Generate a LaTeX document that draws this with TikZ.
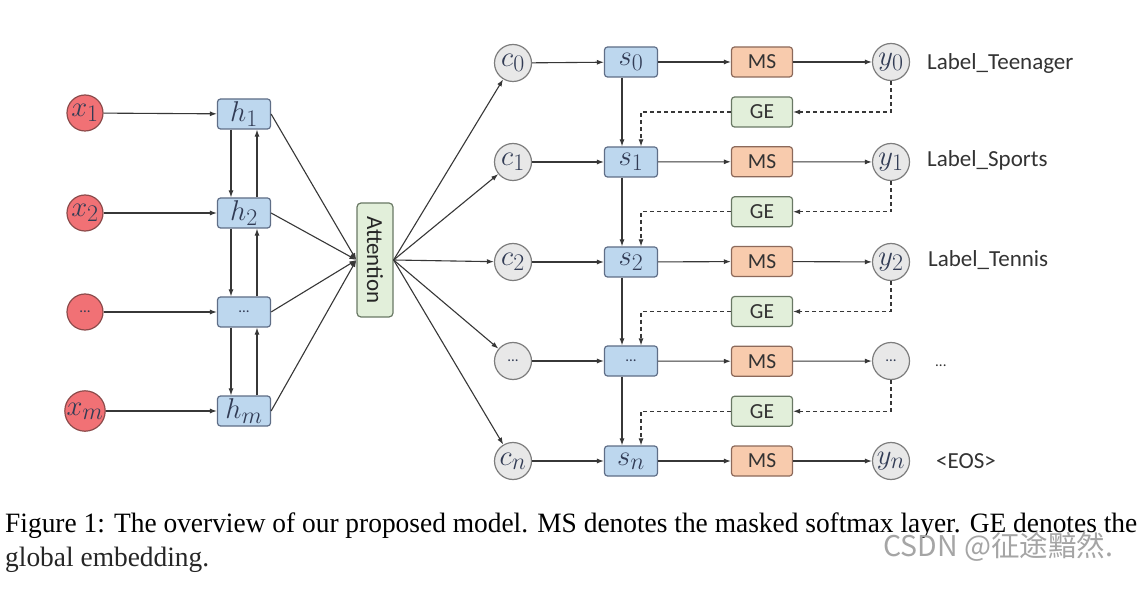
\documentclass[tikz,border=0pt]{standalone}
\usepackage{fontspec}
\setmainfont{Liberation Serif}
\newfontfamily\calibrifont{Carlito}
\newfontfamily\cjkfont{Noto Sans CJK SC}
\usetikzlibrary{arrows.meta}
\definecolor{linec}{RGB}{55,55,55}
\definecolor{xfill}{RGB}{241,113,117}
\definecolor{xborder}{RGB}{140,75,75}
\definecolor{bfill}{RGB}{189,215,238}
\definecolor{bborder}{RGB}{95,110,135}
\definecolor{gfill}{RGB}{232,232,232}
\definecolor{gborder}{RGB}{125,125,125}
\definecolor{grfill}{RGB}{226,239,218}
\definecolor{grborder}{RGB}{105,120,100}
\definecolor{ofill}{RGB}{248,203,173}
\definecolor{oborder}{RGB}{140,105,90}
\definecolor{mtext}{RGB}{50,60,85}
\definecolor{wmark}{RGB}{165,165,165}
\newcommand\mth[1]{\scalebox{1.15}{$#1$}}
\newsavebox\capbox
\AtBeginDocument{\sbox\capbox{\fontsize{28}{28}\selectfont Figure 1: The overview of our proposed model. MS denotes the masked softmax layer. GE denotes the}}
\begin{document}
\begin{tikzpicture}[x=1pt,y=-1pt,
  arr/.style={-{Latex[length=7pt,width=5pt]}, line width=1.1pt, draw=linec},
  dasharr/.style={arr, dash pattern=on 4pt off 3pt},
  xcirc/.style={circle, draw=xborder, fill=xfill, minimum size=36pt, inner sep=0pt, line width=1.2pt, text=mtext, font=\fontsize{24.88}{26}\selectfont},
  gcirc/.style={circle, draw=gborder, fill=gfill, minimum size=37pt, inner sep=0pt, line width=1.2pt, text=mtext, font=\fontsize{24.88}{26}\selectfont},
  hbox/.style={rectangle, rounded corners=3pt, draw=bborder, fill=bfill, minimum width=53pt, minimum height=30pt, inner sep=0pt, line width=1.2pt, text=mtext, font=\fontsize{24.88}{26}\selectfont},
  msbox/.style={rectangle, rounded corners=3pt, draw=oborder, fill=ofill, minimum width=61pt, minimum height=30pt, inner sep=0pt, line width=1.2pt, text=black!80, font=\calibrifont\fontsize{21.5}{21.5}\selectfont},
  gebox/.style={msbox, draw=grborder, fill=grfill},
  attbox/.style={rectangle, rounded corners=4pt, draw=grborder, fill=grfill, minimum width=36pt, minimum height=114pt, inner sep=0pt, line width=1.2pt},
  lbl/.style={anchor=west, inner sep=0pt, text=black!80, font=\calibrifont\fontsize{23}{23}\selectfont},
  dots/.style={font=\calibrifont\fontsize{15}{15}\selectfont}
]
\useasboundingbox[fill=white] (0,0) rectangle (1140,593);

% encoder
\node[xcirc] (x1) at (85,113) {\mth{x_1}};
\node[xcirc] (x2) at (85,213) {\mth{x_2}};
\node[xcirc,dots] (x3) at (85,312) {...};
\node[xcirc] (x4) at (85,411) {\mth{x_m}};
\node[hbox] (h1) at (244,114) {\mth{h_1}};
\node[hbox] (h2) at (244,213) {\mth{h_2}};
\node[hbox,dots] (h3) at (244,312) {...};
\node[hbox] (h4) at (244,411) {\mth{h_m}};
\foreach \i in {1,...,4}{\draw[arr] (x\i) -- (h\i);}
\foreach \i/\j in {1/2,2/3,3/4}{
  \draw[arr] ([xshift=-13pt]h\i.south) -- ([xshift=-13pt]h\j.north);
  \draw[arr] ([xshift=13pt]h\j.north) -- ([xshift=13pt]h\i.south);
}
\node[attbox] (att) at (375,260) {};
\node[rotate=-90, text=black!85, font=\calibrifont\fontsize{23}{23}\selectfont] (atttext) at (att.center) {Attention};
\foreach \i in {1,...,4}{\draw[arr] (h\i.east) -- (att.west);}

% decoder
\node[gcirc] (c0) at (513,63) {\mth{c_0}};
\node[gcirc] (c1) at (513,162) {\mth{c_1}};
\node[gcirc] (c2) at (513,262) {\mth{c_2}};
\node[gcirc,dots] (c3) at (513,361) {...};
\node[gcirc] (c4) at (513,461) {\mth{c_n}};
\node[hbox] (s0) at (631,62) {\mth{s_0}};
\node[hbox] (s1) at (631,162) {\mth{s_1}};
\node[hbox] (s2) at (631,262) {\mth{s_2}};
\node[hbox,dots] (s3) at (631,361) {...};
\node[hbox] (s4) at (631,461) {\mth{s_n}};
\foreach \i in {0,...,4}{
  \node[msbox] (ms\i) at (762,\i*99.75+62) {MS};
}
\foreach \i in {0,...,3}{
  \node[gebox] (ge\i) at (762,\i*99.75+112) {GE};
}
\node[gcirc] (y0) at (891,62) {\mth{y_0}};
\node[gcirc] (y1) at (891,162) {\mth{y_1}};
\node[gcirc] (y2) at (891,262) {\mth{y_2}};
\node[gcirc,dots] (y3) at (891,361) {...};
\node[gcirc] (y4) at (891,461) {\mth{y_n}};
\foreach \i in {0,...,4}{
  \draw[arr] (att.east) -- (c\i);
  \draw[arr] (c\i) -- (s\i);
  \draw[arr] (s\i) -- (ms\i);
  \draw[arr] (ms\i) -- (y\i);
}
\foreach \i/\j in {0/1,1/2,2/3,3/4}{
  \draw[arr] ([xshift=-9pt]s\i.south) -- ([xshift=-9pt]s\j.north);
  \draw[dasharr] (y\i.south) |- (ge\i.east);
  \draw[dasharr] (ge\i.west) -| ([xshift=10pt]s\j.north);
}

% labels
\node[lbl] (l0) at (927,63) {Label\_Teenager};
\node[lbl] (l1) at (927,160) {Label\_Sports};
\node[lbl] (l2) at (928,260) {Label\_Tennis};
\node[lbl,dots] (l3) at (935,366) {...};
\node[lbl] (l4) at (936,461) {<EOS>};

% caption
\pgfmathsetmacro\capsx{1132pt/\wd\capbox}
\node[anchor=base west, inner sep=0pt, text=black!85] (cap1) at (5,532) {\scalebox{\capsx}[1]{\usebox\capbox}};
\node[anchor=base west, inner sep=0pt, text=black!85] (cap2) at (5,566) {\scalebox{\capsx}[1]{\fontsize{28}{28}\selectfont global embedding.}};
\node[anchor=base west, inner sep=0pt, text=wmark] (wm) at (883,556) {\fontsize{28.5}{28.5}\selectfont\cjkfont CSDN @征途黯然.};
\end{tikzpicture}
\end{document}
